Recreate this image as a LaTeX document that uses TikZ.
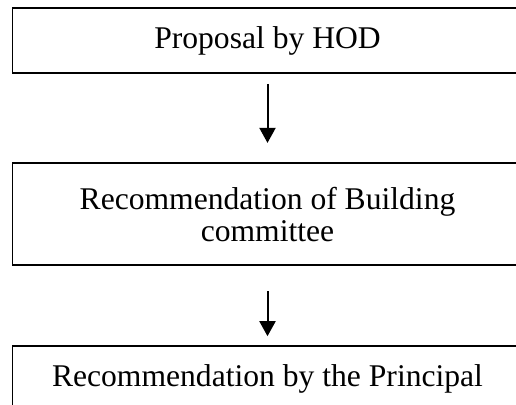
\documentclass[tikz,border=0pt]{standalone}
\usepackage{fontspec}
\setmainfont{Liberation Serif}
\usetikzlibrary{positioning,arrows.meta}

\begin{document}
\begin{tikzpicture}[x=1pt,y=-1pt,
    caja/.style={draw, line width=1.8pt, minimum width=510pt, inner sep=0pt,
      align=center, font=\fontsize{31.6}{32}\selectfont},
    flecha/.style={line width=2pt, -{Triangle[width=16pt,length=15pt]}}]
  % Marco
  \path[use as bounding box, clip] (0,0) rectangle (516,404);

  % Cajas
  \node[caja, minimum height=65pt] (hod) at (267.5,40.5) {Proposal by HOD};
  \node[caja, minimum height=102.5pt, text height=55.5pt, below=88pt of hod] (comite)
    {Recommendation of Building\\committee};
  \node[caja, minimum height=65pt, below=79pt of comite] (principal)
    {Recommendation by the Principal};

  % Flechas
  \draw[flecha, shorten <=10pt, shorten >=19pt] (hod) -- (comite);
  \draw[flecha, shorten <=25pt, shorten >=9pt] (comite) -- (principal);
\end{tikzpicture}
\end{document}
